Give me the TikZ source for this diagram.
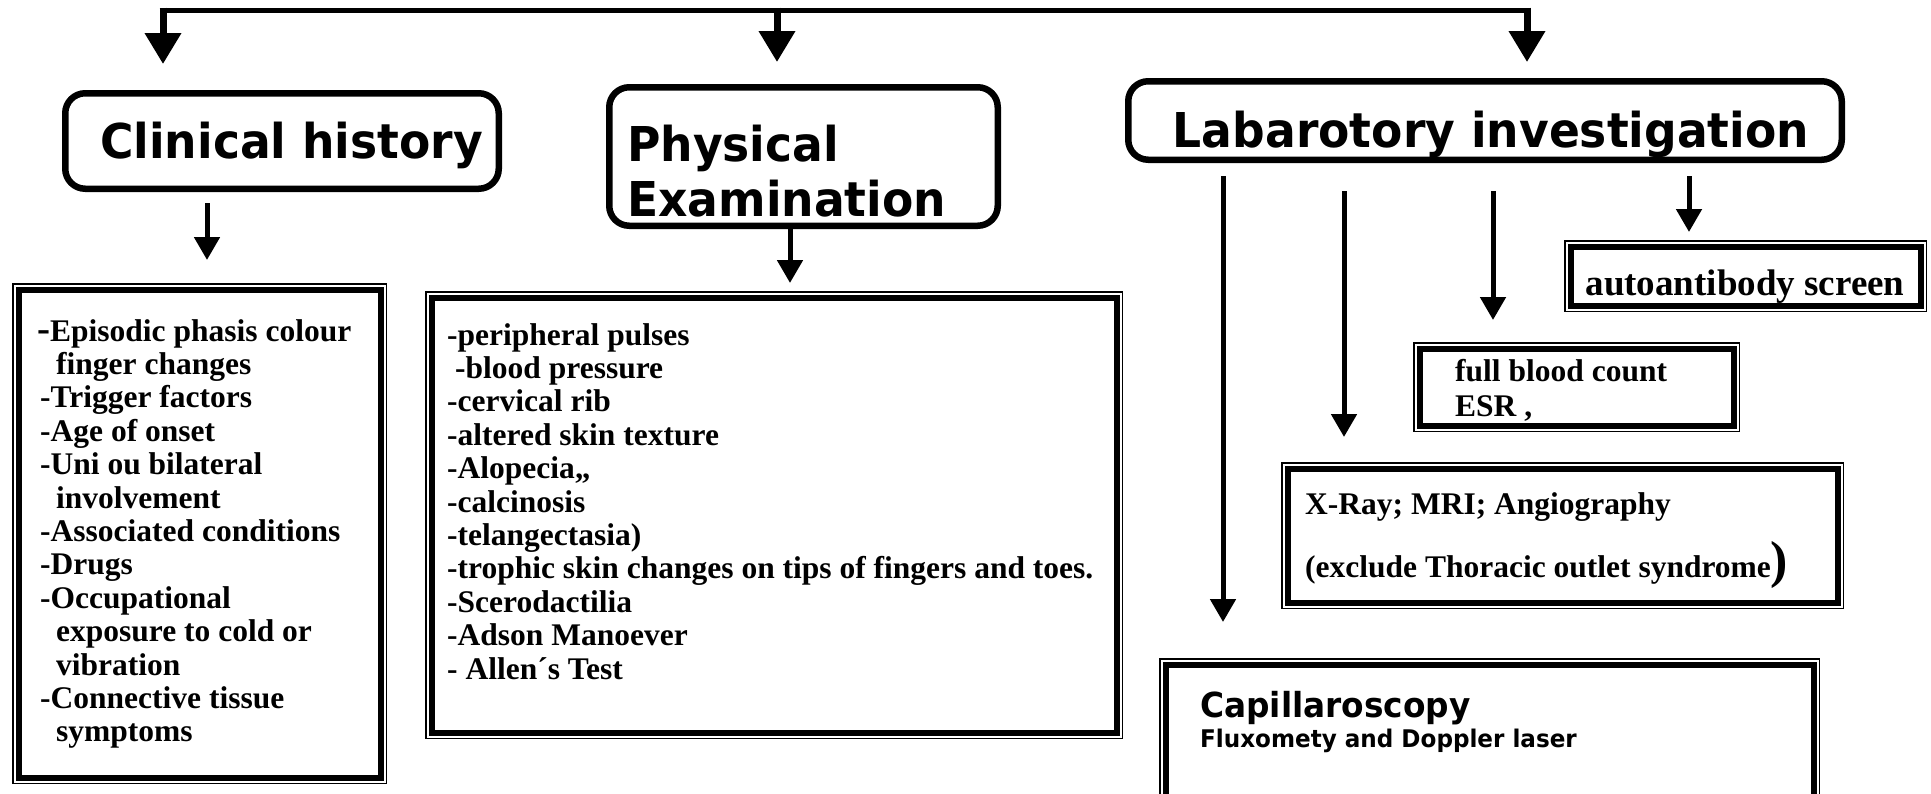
\documentclass[tikz,border=0pt]{standalone}
\usepackage{fontspec}
\setmainfont{Liberation Serif}
\newfontfamily\ttlfont{DejaVu Sans}[FakeStretch=0.95]
\usetikzlibrary{arrows.meta}
\newcommand\dblbox[5]{%
  \node[thickbox, minimum width={#4-#2-13}, minimum height={#5-#3-13}] (#1) at ({#2+3.5},{#3+3.5}) {};
  \draw[thinline] ([shift={(-2.75,-2.75)}]#1.north west) rectangle ([shift={(2.75,2.75)}]#1.south east);}
\begin{document}
\begin{tikzpicture}[x=1pt,y=-1pt,
  ttlbox/.style={draw, line width=6.5pt, rounded corners=20pt, inner sep=0pt, anchor=north west},
  thickbox/.style={draw, line width=6pt, inner sep=0pt, anchor=north west},
  thinline/.style={line width=1.5pt},
  hubline/.style={line width=5pt},
  bigarrow/.style={line width=7pt, -{Triangle[width=35pt,length=31pt]}},
  arr/.style={line width=5pt, -{Triangle[width=25pt,length=23pt]}},
  ttl/.style={font=\ttlfont\bfseries\fontsize{48}{55}\selectfont, inner sep=0pt, anchor=base west},
  body/.style={font=\bfseries\fontsize{31.5}{33.4}\selectfont, inner sep=0pt, anchor=base west}]
\fill[white] (0,0) rectangle (1931,793);
\path[use as bounding box] (0,0) rectangle (1931,793);
\clip (0,0) rectangle (1931,793);

% title boxes
\node[ttlbox, minimum width=433.5, minimum height=95.5] (cl) at (62,90) {};
\node[ttlbox, minimum width=388.5, minimum height=138.5] (pe) at (606,84) {};
\node[ttlbox, minimum width=713.5, minimum height=78.5] (lab) at (1125,78) {};

\node[ttl] (clt) at (100,158) {Clinical history};
\node[ttl] (pet) at (627,161) {\begin{tabular}[t]{@{}l@{}}Physical\\Examination\end{tabular}};
\node[ttl, anchor=base] (labt) at (1491,147) {Labarotory investigation};

% list boxes
\dblbox{lbox}{12}{283}{387}{784}
\dblbox{pbox}{425}{291}{1123}{739}
\dblbox{abox}{1564}{240}{1927}{312}
\dblbox{fbox}{1413}{342}{1740}{432}
\dblbox{xbox}{1281}{462}{1844}{609}
\dblbox{cbox}{1159}{658}{1820}{830}

\node[body] (lt) at (40,341) {\begin{tabular}[t]{@{}l@{}}
\hspace*{-3pt}{\fontsize{39}{39}\selectfont-}Episodic phasis colour\\
\hspace*{16pt}finger changes\\
-Trigger factors\\
-Age of onset\\
-Uni ou bilateral\\
\hspace*{16pt}involvement\\
-Associated conditions\\
-Drugs\\
-Occupational\\
\hspace*{16pt}exposure to cold or\\
\hspace*{16pt}vibration\\
-Connective tissue\\
\hspace*{16pt}symptoms\end{tabular}};

\node[body] (ptx) at (447,345) {\begin{tabular}[t]{@{}l@{}}
-peripheral pulses\\
\hspace*{8pt}-blood pressure\\
-cervical rib\\
-altered skin texture\\
-Alopecia,,\\
-calcinosis\\
-telangectasia)\\
-trophic skin changes on tips of fingers and toes.\\
-Scerodactilia\\
-Adson Manoever\\
- Allen´s Test\end{tabular}};

\node[body, anchor=base, font=\bfseries\fontsize{37}{40}\selectfont] (at) at (1745,295) {autoantibody screen};
\node[body, font=\bfseries\fontsize{31.5}{35}\selectfont] (ft) at (1455,381) {\begin{tabular}[t]{@{}l@{}}full blood count\\ESR ,\end{tabular}};
\node[body, font=\bfseries\fontsize{31.5}{63}\selectfont] (xt) at (1305,514) {\begin{tabular}[t]{@{}l@{}}X-Ray; MRI; Angiography\\(exclude Thoracic outlet syndrome{\fontsize{52}{52}\selectfont)}\end{tabular}};
\node[ttl, font=\ttlfont\bfseries\fontsize{34.5}{38}\selectfont] (ct) at (1200,717) {Capillaroscopy};
\node[ttl, font=\ttlfont\bfseries\fontsize{24.3}{28}\selectfont] (dt) at (1200,747) {Fluxomety and Doppler laser};

% hub line and top arrows
\coordinate (hubL) at (163,10);
\coordinate (hubM) at (777,10);
\coordinate (hubR) at (1527,10);
\draw[hubline] ([xshift=-3.5pt]hubL) -- ([xshift=3.5pt]hubR);
\draw[bigarrow, shorten <=-2.5pt, shorten >=26pt] (hubL) -- (cl.north -| hubL);
\draw[bigarrow, shorten <=-2.5pt, shorten >=22pt] (hubM) -- (pe.north -| hubM);
\draw[bigarrow, shorten <=-2.5pt, shorten >=16pt] (hubR) -- (lab.north -| hubR);

% arrows to the lists
\coordinate (xc) at (207,0);
\coordinate (xp) at (790,0);
\draw[arr, shorten <=11pt, shorten >=26.5pt] (cl.south -| xc) -- (lbox.north -| xc);
\draw[arr, shorten >=11.5pt] (pe.south -| xp) -- (pbox.north -| xp);

% laboratory arrows
\coordinate (a1) at (1223,0);
\coordinate (a2) at (1344,0);
\coordinate (a3) at (1493,0);
\coordinate (a4) at (1689,0);
\draw[arr, shorten <=13pt, shorten >=39.5pt] (lab.south -| a1) -- (cbox.north -| a1);
\draw[arr, shorten <=28pt, shorten >=28.5pt] (lab.south -| a2) -- (xbox.north -| a2);
\draw[arr, shorten <=28pt, shorten >=25.5pt] (lab.south -| a3) -- (fbox.north -| a3);
\draw[arr, shorten <=13pt, shorten >=11.5pt] (lab.south -| a4) -- (abox.north -| a4);
\end{tikzpicture}
\end{document}
